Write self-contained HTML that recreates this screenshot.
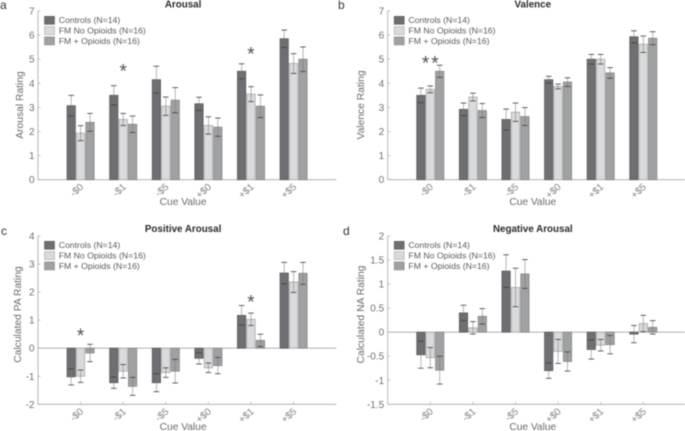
<!DOCTYPE html>
<html>
<head>
<meta charset="utf-8">
<title>Cue value ratings</title>
<style>
html,body{margin:0;padding:0;background:#fff;width:685px;height:431px;overflow:hidden}
svg{display:block;filter:blur(0.45px)}
text{font-family:"Liberation Sans",sans-serif}
</style>
</head>
<body>
<svg id="figure" width="685" height="431" viewBox="0 0 685 431" xmlns="http://www.w3.org/2000/svg"></svg>
<script>
const categories = ['-$0', '-$1', '-$5', '+$0', '+$1', '+$5'];
const seriesNames = ['Controls (N=14)', 'FM No Opioids (N=16)', 'FM + Opioids (N=16)'];
const seriesKeys = ['controls', 'fm-no-opioids', 'fm-plus-opioids'];

const arousalControls = [3.07, 3.5, 4.15, 3.15, 4.5, 5.85];
const arousalNoOpioids = [1.93, 2.5, 3.05, 2.25, 3.55, 4.82];
const arousalOpioids = [2.38, 2.3, 3.3, 2.18, 3.05, 5.0];
const arousalControlsErr = [0.43, 0.4, 0.56, 0.27, 0.31, 0.36];
const arousalNoOpioidsErr = [0.31, 0.25, 0.38, 0.36, 0.31, 0.41];
const arousalOpioidsErr = [0.37, 0.34, 0.52, 0.38, 0.47, 0.51];
const arousalTicks = [0, 1, 2, 3, 4, 5, 6, 7];

const valenceControls = [3.5, 2.92, 2.5, 4.15, 5.0, 5.93];
const valenceNoOpioids = [3.75, 3.43, 2.8, 3.87, 5.0, 5.62];
const valenceOpioids = [4.5, 2.87, 2.62, 4.05, 4.43, 5.87];
const valenceControlsErr = [0.3, 0.26, 0.43, 0.14, 0.2, 0.25];
const valenceNoOpioidsErr = [0.14, 0.16, 0.38, 0.1, 0.2, 0.34];
const valenceOpioidsErr = [0.25, 0.29, 0.37, 0.18, 0.22, 0.27];
const valenceTicks = [0, 1, 2, 3, 4, 5, 6, 7];

const positiveControls = [-1.02, -1.23, -1.23, -0.36, 1.17, 2.68];
const positiveNoOpioids = [-1.0, -0.82, -0.87, -0.7, 1.03, 2.36];
const positiveOpioids = [-0.17, -1.36, -0.82, -0.62, 0.28, 2.67];
const positiveControlsErr = [0.29, 0.2, 0.32, 0.2, 0.35, 0.38];
const positiveNoOpioidsErr = [0.22, 0.24, 0.17, 0.17, 0.22, 0.37];
const positiveOpioidsErr = [0.31, 0.32, 0.42, 0.29, 0.22, 0.39];
const positiveTicks = [-2, -1, 0, 1, 2, 3, 4];

const negativeControls = [-0.47, 0.4, 1.27, -0.8, -0.36, -0.04];
const negativeNoOpioids = [-0.53, 0.09, 0.93, -0.4, -0.27, 0.18];
const negativeOpioids = [-0.79, 0.33, 1.21, -0.61, -0.26, 0.1];
const negativeControlsErr = [0.28, 0.16, 0.34, 0.16, 0.2, 0.18];
const negativeNoOpioidsErr = [0.21, 0.13, 0.4, 0.25, 0.12, 0.17];
const negativeOpioidsErr = [0.29, 0.16, 0.3, 0.2, 0.19, 0.14];
const negativeTicks = [-1.5, -1, -0.5, 0, 0.5, 1, 1.5, 2];

const arousalStarGroups = [1, 4];
const arousalStarValues = [4.72, 5.42];
const valenceStarGroups = [-0.11, 0.11];
const valenceStarValues = [5.04, 5.04];
const positiveStarGroups = [0, 4];
const positiveStarValues = [0.63, 1.83];
const negativeStarGroups = [];
const negativeStarValues = [];

const fills = ['#6f6f73', '#d9dadb', '#a0a1a3'];
const edges = ['#5c5c5f', '#a9a9aa', '#878789'];
const NS = 'http://www.w3.org/2000/svg';
const root = document.getElementById('figure');

function make(parent, tag, attrs, txt) {
  const el = document.createElementNS(NS, tag);
  for (const k in attrs) el.setAttribute(k, attrs[k]);
  if (txt !== undefined) el.textContent = txt;
  parent.appendChild(el);
  return el;
}

function drawPanel(p) {
  const g = make(root, 'g', {});
  
  
  const left = p.left, top = p.top, bottom = p.bottom;
  const step = 42.6;
  const yMin = p.ticks[0], yMax = p.ticks[p.ticks.length - 1];
  const xScale = i => left + step * (i + 1);
  const yScale = v => bottom - (v - yMin) / (yMax - yMin) * (bottom - top);
  const right = left + step * 7;

  const letter = make(g, 'text', {x: p.letterX, y: p.letterY, 'font-size': 12, fill: '#333'}, p.letter);
  
  

  const title = make(g, 'text', {x: left + step * 3.5 - 4, y: p.titleY, 'font-size': 9.8, 'font-weight': 'bold', fill: '#2a2a2a', 'text-anchor': 'middle'}, p.title);
  
  

  const yAxis = make(g, 'line', {x1: left, x2: left, y1: top, y2: bottom, stroke: '#a6a6a6', 'stroke-width': 0.8});
  
  
  const xAxis = make(g, 'line', {x1: left, x2: right, y1: bottom, y2: bottom, stroke: '#a6a6a6', 'stroke-width': 0.8});
  
  
  if (yMin < 0) {
    const zero = make(g, 'line', {x1: left, x2: right, y1: yScale(0), y2: yScale(0), stroke: '#a6a6a6', 'stroke-width': 0.8});
    
    
  }

  p.ticks.forEach(t => {
    const y = yScale(t);
    make(g, 'line', {x1: left, x2: left + 2.5, y1: y, y2: y, stroke: '#a6a6a6', 'stroke-width': 0.7});
    const lab = make(g, 'text', {x: left - 3.5, y: y + 3.5, 'font-size': 10, fill: '#707070', 'text-anchor': 'end'}, String(t));
    
    
  });

  const yTitle = make(g, 'text', {'font-size': 10.3, fill: '#6a6a6a', 'text-anchor': 'middle', transform: 'translate(' + p.yTitleX + ',' + p.yTitleY + ') rotate(-90)'}, p.yTitle);
  
  

  const xTitle = make(g, 'text', {x: left + step * 3.5 - 4, y: p.xTitleY, 'font-size': 10.2, fill: '#6a6a6a', 'text-anchor': 'middle'}, 'Cue Value');
  
  

  categories.forEach((c, i) => {
    const x = xScale(i);
    make(g, 'line', {x1: x, x2: x, y1: bottom, y2: bottom - 2.5, stroke: '#a6a6a6', 'stroke-width': 0.7});
    const lab = make(g, 'text', {'font-size': 9.8, fill: '#808080', 'text-anchor': 'end', transform: 'translate(' + (x + 3.5) + ',' + (bottom + 8) + ') rotate(-42)'}, c);
    
    
  });

  const barWidth = 8.3, offset = 9.4;
  p.series.forEach((vals, s) => {
    vals.forEach((v, i) => {
      const x = xScale(i) + (s - 1) * offset;
      const y0 = yScale(0), y1 = yScale(v);
      const bar = make(g, 'rect', {x: x - barWidth / 2, y: Math.min(y0, y1), width: barWidth, height: Math.abs(y1 - y0), fill: fills[s], stroke: edges[s], 'stroke-width': 0.8});
      
      
    });
  });
  p.series.forEach((vals, s) => {
    vals.forEach((v, i) => {
      const x = xScale(i) + (s - 1) * offset;
      const e = p.errors[s][i];
      const hi = yScale(v + e), lo = yScale(v - e);
      const stem = make(g, 'line', {x1: x, x2: x, y1: hi, y2: lo, stroke: '#777', 'stroke-opacity': 0.6, 'stroke-width': 0.9});
      
      
      make(g, 'line', {x1: x - 2.8, x2: x + 2.8, y1: hi, y2: hi, stroke: '#3c3c3c', 'stroke-width': 0.8});
      make(g, 'line', {x1: x - 2.8, x2: x + 2.8, y1: lo, y2: lo, stroke: '#3c3c3c', 'stroke-width': 0.8});
    });
  });

  p.starGroups.forEach((sg, i) => {
    const star = make(g, 'text', {x: xScale(sg), y: yScale(p.starValues[i]) + 11.5, 'font-size': 19, fill: '#505050', 'text-anchor': 'middle'}, '*');
    
    
  });

  const legend = make(g, 'g', {});
  
  
  seriesNames.forEach((n, s) => {
    const cy = top + 9.3 + s * 10.3;
    const swatch = make(legend, 'rect', {x: left + 6.5, y: cy - 4, width: 10, height: 8, fill: fills[s], stroke: edges[s], 'stroke-width': 0.6});
    
    
    const t = make(legend, 'text', {x: left + 20.7, y: cy + 2.9, 'font-size': 8.7, fill: '#5a5a5a'}, n);
    
    
  });
}

const TOP_A = 11, BOT_A = 179.7, TOP_C = 236, BOT_C = 404.3;
drawPanel({key: 'arousal', letter: 'a', letterX: 0, letterY: 9, title: 'Arousal', titleY: 7.5, yTitle: 'Arousal Rating', yTitleX: 23, yTitleY: 105, xTitleY: 205,
  left: 38, top: TOP_A, bottom: BOT_A, ticks: arousalTicks,
  series: [arousalControls, arousalNoOpioids, arousalOpioids],
  errors: [arousalControlsErr, arousalNoOpioidsErr, arousalOpioidsErr],
  starGroups: arousalStarGroups, starValues: arousalStarValues});
drawPanel({key: 'valence', letter: 'b', letterX: 338, letterY: 9, title: 'Valence', titleY: 7.5, yTitle: 'Valence Rating', yTitleX: 364, yTitleY: 105, xTitleY: 205,
  left: 387.7, top: TOP_A, bottom: BOT_A, ticks: valenceTicks,
  series: [valenceControls, valenceNoOpioids, valenceOpioids],
  errors: [valenceControlsErr, valenceNoOpioidsErr, valenceOpioidsErr],
  starGroups: valenceStarGroups, starValues: valenceStarValues});
drawPanel({key: 'positive-arousal', letter: 'c', letterX: 1, letterY: 235, title: 'Positive Arousal', titleY: 232, yTitle: 'Calculated PA Rating', yTitleX: 21, yTitleY: 314.5, xTitleY: 430,
  left: 38, top: TOP_C, bottom: BOT_C, ticks: positiveTicks,
  series: [positiveControls, positiveNoOpioids, positiveOpioids],
  errors: [positiveControlsErr, positiveNoOpioidsErr, positiveOpioidsErr],
  starGroups: positiveStarGroups, starValues: positiveStarValues});
drawPanel({key: 'negative-arousal', letter: 'd', letterX: 343, letterY: 235, title: 'Negative Arousal', titleY: 232, yTitle: 'Calculated NA Rating', yTitleX: 364, yTitleY: 314.5, xTitleY: 430,
  left: 387.7, top: TOP_C, bottom: BOT_C, ticks: negativeTicks,
  series: [negativeControls, negativeNoOpioids, negativeOpioids],
  errors: [negativeControlsErr, negativeNoOpioidsErr, negativeOpioidsErr],
  starGroups: negativeStarGroups, starValues: negativeStarValues});
</script>
</body>
</html>
